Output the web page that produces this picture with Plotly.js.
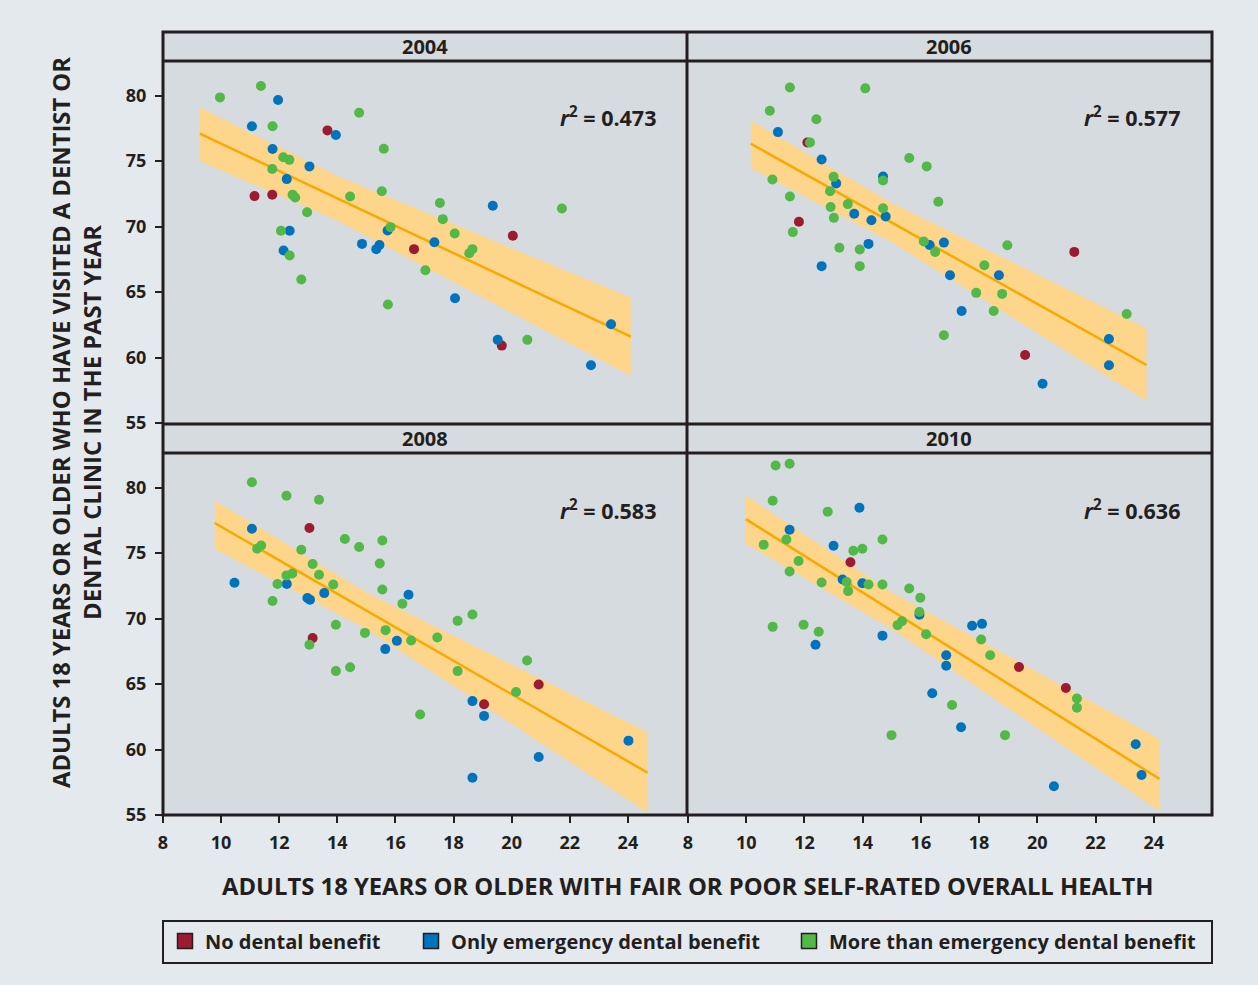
<!DOCTYPE html>
<html><head><meta charset="utf-8">
<script src="https://cdn.plot.ly/plotly-3.0.1.min.js"></script>
<style>html,body{margin:0;padding:0;background:#e4e9ed;}</style>
</head><body><div id="chart" style="width:1258px;height:985px;"></div>
<script>
// ---- DATA ----
var panels = ['2004','2006','2008','2010'];
var r2Labels = ['0.473','0.577','0.583','0.636'];
var seriesNames = ['No dental benefit','Only emergency dental benefit','More than emergency dental benefit'];
var xTicks = [8,10,12,14,16,18,20,22,24];
var yTicks = [55,60,65,70,75,80];

// 2004
var x2004_none = [13.66,11.15,11.76,16.64,20.04,19.66];
var y2004_none = [77.35,72.33,72.43,68.28,69.3,60.91];
var x2004_emerg = [11.96,11.06,13.95,11.77,13.04,12.26,12.36,15.73,12.15,14.85,15.34,15.45,17.34,19.35,18.05,19.52,23.42,22.73];
var y2004_emerg = [79.67,77.66,77.0,75.93,74.6,73.63,69.68,69.7,68.17,68.68,68.28,68.59,68.8,71.59,64.53,61.35,62.54,59.41];
var x2004_more = [9.96,11.37,11.77,14.75,15.6,12.14,12.35,11.76,15.53,14.44,12.46,12.55,12.96,15.83,12.06,12.36,12.76,15.74,17.03,17.53,17.63,18.04,18.54,18.65,21.73,20.54];
var y2004_more = [79.87,80.74,77.66,78.7,75.95,75.3,75.1,74.4,72.7,72.3,72.43,72.22,71.1,69.96,69.68,67.8,65.96,64.05,66.67,71.8,70.57,69.47,67.97,68.28,71.38,61.35];
var fit2004_x = [9.27,24.1];
var fit2004_y = [77.1,61.6];
var band2004_x = [9.27,14,24.1];
var band2004_hi = [79.1,73.86,64.58];
var band2004_lo = [75.0,70.46,58.6];

// 2006
var x2006_none = [12.10,11.81,21.27,19.58];
var y2006_none = [76.43,70.37,68.07,60.2];
var x2006_emerg = [11.09,12.59,13.09,14.70,13.71,14.79,14.30,14.2,12.59,16.3,16.79,17.0,17.4,18.68,22.46,22.46,20.18];
var y2006_emerg = [77.22,75.13,73.3,73.83,70.98,70.77,70.49,68.68,66.98,68.6,68.78,66.29,63.56,66.29,61.42,59.41,58.0];
var x2006_more = [11.50,14.09,10.81,12.41,12.19,15.6,16.2,10.9,13.0,14.70,11.5,12.88,16.6,12.9,13.49,14.7,13.01,11.60,13.2,13.9,13.9,16.1,16.49,16.79,18.97,18.18,17.9,18.79,18.5,23.07];
var y2006_more = [80.63,80.56,78.85,78.2,76.43,75.24,74.6,73.6,73.8,73.52,72.3,72.71,71.9,71.5,71.72,71.4,70.67,69.58,68.38,68.25,66.98,68.86,68.07,61.7,68.58,67.05,64.94,64.86,63.56,63.33];
var fit2006_x = [10.16,23.75];
var fit2006_y = [76.33,59.43];
var band2006_x = [10.16,15,23.75];
var band2006_hi = [78.09,71.8,62.24];
var band2006_lo = [74.47,68.8,56.68];

// 2008
var x2008_none = [13.04,13.15,20.93,19.05];
var y2008_none = [76.92,68.51,64.97,63.46];
var x2008_emerg = [11.06,10.46,12.26,13.55,12.97,13.06,16.45,16.05,15.65,18.65,19.05,24.02,20.93,18.65];
var y2008_emerg = [76.87,72.74,72.64,71.95,71.57,71.44,71.82,68.3,67.67,63.7,62.57,60.68,59.43,57.85];
var x2008_more = [11.06,12.25,13.37,11.24,11.38,12.76,14.26,14.75,15.55,13.15,15.46,12.25,12.45,13.37,11.94,13.86,15.55,16.24,11.77,13.95,14.95,15.66,13.04,16.54,13.95,14.44,16.85,18.14,18.65,17.44,20.53,18.14,20.15];
var y2008_more = [80.41,79.39,79.08,75.34,75.59,75.26,76.08,75.47,75.97,74.17,74.21,73.3,73.45,73.35,72.64,72.61,72.22,71.13,71.34,69.53,68.91,69.12,68.0,68.33,65.99,66.29,62.67,69.83,70.31,68.56,66.8,65.99,64.4];
var fit2008_x = [9.78,24.68];
var fit2008_y = [77.3,58.23];
var band2008_x = [9.78,15,24.68];
var band2008_hi = [79.03,72.0,61.32];
var band2008_lo = [75.31,69.2,55.18];

// 2010
var x2010_none = [13.58,19.37,20.98];
var y2010_none = [74.3,66.3,64.7];
var x2010_emerg = [13.89,11.49,13.0,13.31,13.99,15.95,12.38,14.68,16.87,16.87,17.76,18.1,16.39,17.38,23.38,23.58,20.57];
var y2010_emerg = [78.47,76.79,75.56,72.99,72.7,70.3,68.0,68.7,67.2,66.4,69.45,69.6,64.3,61.7,60.4,58.06,57.2];
var x2010_more = [11.01,11.49,10.91,12.8,14.68,11.38,10.6,13.68,13.99,11.8,11.49,13.45,12.59,14.2,14.68,15.6,13.5,15.98,15.95,15.2,15.35,10.91,11.97,12.49,16.18,18.07,18.38,17.07,14.99,18.89,21.36,21.36];
var y2010_more = [81.7,81.83,79.0,78.17,76.04,76.04,75.65,75.18,75.34,74.4,73.6,72.8,72.76,72.6,72.6,72.3,72.1,71.6,70.5,69.5,69.8,69.37,69.53,69.0,68.8,68.4,67.2,63.4,61.1,61.1,63.9,63.2];
var fit2010_x = [9.99,24.2];
var fit2010_y = [77.6,57.75];
var band2010_x = [9.99,15,24.2];
var band2010_hi = [79.4,72.0,60.8];
var band2010_lo = [75.7,69.2,55.3];

// ---- BUILD ----
var colors = ['#9c1b31','#0073bd','#52b848'];
var FONT = '"Open Sans", "Liberation Sans", sans-serif';
var data = {
  '2004': {x:[x2004_none,x2004_emerg,x2004_more], y:[y2004_none,y2004_emerg,y2004_more], fx:fit2004_x, fy:fit2004_y, bx:band2004_x, bh:band2004_hi, bl:band2004_lo},
  '2006': {x:[x2006_none,x2006_emerg,x2006_more], y:[y2006_none,y2006_emerg,y2006_more], fx:fit2006_x, fy:fit2006_y, bx:band2006_x, bh:band2006_hi, bl:band2006_lo},
  '2008': {x:[x2008_none,x2008_emerg,x2008_more], y:[y2008_none,y2008_emerg,y2008_more], fx:fit2008_x, fy:fit2008_y, bx:band2008_x, bh:band2008_hi, bl:band2008_lo},
  '2010': {x:[x2010_none,x2010_emerg,x2010_more], y:[y2010_none,y2010_emerg,y2010_more], fx:fit2010_x, fy:fit2010_y, bx:band2010_x, bh:band2010_hi, bl:band2010_lo}
};
var axisIds = [['x','y'],['x2','y2'],['x3','y3'],['x4','y4']];
var traces = [];
panels.forEach(function(p, i){
  var d = data[p], xa = axisIds[i][0], ya = axisIds[i][1];
  traces.push({x: d.bx.concat(d.bx.slice().reverse()), y: d.bh.concat(d.bl.slice().reverse()),
    xaxis: xa, yaxis: ya, mode:'lines', fill:'toself', fillcolor:'#fdd68c', line:{width:0}, showlegend:false, hoverinfo:'skip'});
  traces.push({x: d.fx, y: d.fy, xaxis: xa, yaxis: ya, mode:'lines', line:{color:'#f8a900', width:2.5}, showlegend:false});
  for (var k=0;k<3;k++){
    traces.push({x:d.x[k], y:d.y[k], xaxis:xa, yaxis:ya, mode:'markers', name:seriesNames[k],
      marker:{color:colors[k], size:10}, showlegend:false});
  }
});
var legIds = ['legend','legend2','legend3'];
for (var k=0;k<3;k++){
  traces.push({x:[null], y:[null], mode:'markers', name:seriesNames[k], legend:legIds[k],
    marker:{color:colors[k], size:15, symbol:'square', line:{color:'#231f20', width:1.5}}, showlegend:true});
}

var L = 163, R = 1212, T = 32, B = 815, W = 1258, H = 985;
function px(v){ return (v - L)/(R - L); }
function py(v){ return (B - v)/(B - T); }

var tickFont = {family: FONT, size: 18, color:'#231f20', weight: 700};
function xax(dom, showLabels, anchor){
  return {domain: dom, range:[8,26], tickvals: xTicks, showticklabels: showLabels, ticks: showLabels ? 'outside' : '',
    ticklen: 7, tickwidth: 2, tickcolor:'#231f20', showgrid:false, zeroline:false, showline:false, anchor: anchor,
    tickfont: tickFont, ticklabelstandoff: 4, fixedrange:true};
}
function yax(dom, showLabels, anchor){
  return {domain: dom, range:[55,82.65], tickvals: yTicks, showticklabels: showLabels, ticks: showLabels ? 'outside' : '',
    ticklen: 7, tickwidth: 2, tickcolor:'#231f20', showgrid:false, zeroline:false, showline:false, anchor: anchor,
    tickfont: tickFont, ticklabelstandoff: 5, fixedrange:true};
}
var xL = [0, px(686)], xR = [px(688), 1];
var yTop = [py(423), py(61)], yBot = [0, py(453)];

var ink = '#231f20';
var shapes = [
  {type:'rect', xref:'paper', yref:'paper', x0:0, x1:px(686), y0:py(61), y1:1, fillcolor:'#d6dbdf', line:{width:0}, layer:'below'},
  {type:'rect', xref:'paper', yref:'paper', x0:px(688), x1:1, y0:py(61), y1:1, fillcolor:'#d6dbdf', line:{width:0}, layer:'below'},
  {type:'rect', xref:'paper', yref:'paper', x0:0, x1:px(686), y0:py(453), y1:py(424), fillcolor:'#d6dbdf', line:{width:0}, layer:'below'},
  {type:'rect', xref:'paper', yref:'paper', x0:px(688), x1:1, y0:py(453), y1:py(424), fillcolor:'#d6dbdf', line:{width:0}, layer:'below'},
  {type:'rect', xref:'paper', yref:'paper', x0:0, x1:1, y0:0, y1:1, line:{color:ink, width:3}},
  {type:'line', xref:'paper', yref:'paper', x0:px(687), x1:px(687), y0:0, y1:1, line:{color:ink, width:3}},
  {type:'line', xref:'paper', yref:'paper', x0:0, x1:1, y0:py(61), y1:py(61), line:{color:ink, width:3}},
  {type:'line', xref:'paper', yref:'paper', x0:0, x1:1, y0:py(424), y1:py(424), line:{color:ink, width:3}},
  {type:'line', xref:'paper', yref:'paper', x0:0, x1:1, y0:py(453), y1:py(453), line:{color:ink, width:3}},
  {type:'rect', xref:'paper', yref:'paper', x0:0, x1:1, y0:py(963), y1:py(921), line:{color:ink, width:2}}
];

var annotations = [];
var stripX = [px(425), px(949), px(425), px(949)];
var stripY = [py(46), py(46), py(438), py(438)];
var r2X = [px(658), px(1182), px(658), px(1182)];
var r2Y = [py(116), py(116), py(509), py(509)];
panels.forEach(function(p,i){
  annotations.push({xref:'paper', yref:'paper', x:stripX[i], y:stripY[i], text:p, showarrow:false, font:{family:FONT, size:20, color:ink, weight:700}, xanchor:'center', yanchor:'middle'});
  annotations.push({xref:'paper', yref:'paper', x:r2X[i], y:r2Y[i], text:'<i>r</i><sup>2</sup> = '+r2Labels[i], showarrow:false, font:{family:FONT, size:21.5, color:ink, weight:700}, xanchor:'right', yanchor:'middle'});
});
annotations.push({xref:'paper', yref:'paper', x:px(687), y:py(886), text:'ADULTS 18 YEARS OR OLDER WITH FAIR OR POOR SELF-RATED OVERALL HEALTH', showarrow:false, font:{family:FONT, size:23.8, color:ink, weight:700}, xanchor:'center', yanchor:'middle'});
annotations.push({xref:'paper', yref:'paper', x:px(76), y:py(423), text:'ADULTS 18 YEARS OR OLDER WHO HAVE VISITED A DENTIST OR<br>DENTAL CLINIC IN THE PAST YEAR', textangle:-90, showarrow:false, font:{family:FONT, size:23.8, color:ink, weight:700}, xanchor:'center', yanchor:'middle'});

var legFont = {family: FONT, size: 20, color: ink, weight: 700};
function leg(xpix){ return {x: px(xpix), y: py(941), xanchor:'left', yanchor:'middle', orientation:'h', bgcolor:'rgba(0,0,0,0)', borderwidth:0, font: legFont, itemclick:false, itemdoubleclick:false}; }

var layout = {
  width: W, height: H,
  margin: {l: L, r: W - R, t: T, b: H - B, pad: 0},
  paper_bgcolor: '#e4e9ed', plot_bgcolor: '#d6dbdf',
  font: {family: FONT, color: ink},
  xaxis: xax(xL, false, 'y'), yaxis: yax(yTop, true, 'x'),
  xaxis2: xax(xR, false, 'y2'), yaxis2: yax(yTop, false, 'x2'),
  xaxis3: xax(xL, true, 'y3'), yaxis3: yax(yBot, true, 'x3'),
  xaxis4: xax(xR, true, 'y4'), yaxis4: yax(yBot, false, 'x4'),
  shapes: shapes, annotations: annotations,
  legend: leg(165), legend2: leg(411), legend3: leg(789),
  showlegend: true
};
Plotly.newPlot('chart', traces, layout, {displayModeBar:false, staticPlot:true});
</script></body></html>
